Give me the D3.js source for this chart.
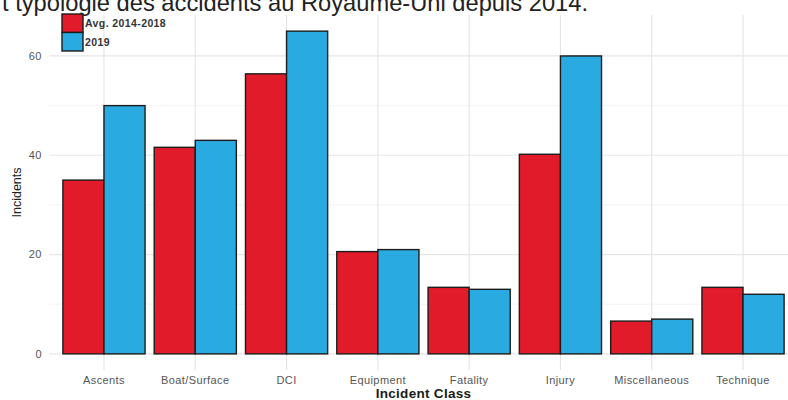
<!DOCTYPE html>
<html>
<head>
<meta charset="utf-8">
<script src="https://cdn.jsdelivr.net/npm/d3@7"></script>
<style>
  html, body { margin: 0; padding: 0; background: #fff; overflow: hidden; }
  svg { display: block; font-family: "Liberation Sans", Arial, Helvetica, sans-serif; }
</style>
</head>
<body>
<svg id="chart" width="788" height="400"></svg>
<script>
const categories = ["Ascents", "Boat/Surface", "DCI", "Equipment", "Fatality", "Injury", "Miscellaneous", "Technique"];
const seriesNames = ["Avg. 2014-2018", "2019"];
const avgValues = [35, 41.6, 56.4, 20.6, 13.4, 40.2, 6.6, 13.4];
const values2019 = [50, 43, 65, 21, 13, 60, 7, 12];
const yTicks = [0, 20, 40, 60];
const yMinorTicks = [10, 30, 50];
const colors = ["#e21b2a", "#29abe2"];
const titleText = "t typologie des accidents au Royaume-Uni depuis 2014.";

const svg = d3.select("#chart");
const W = 788, H = 400;
const panel = { left: 49.2, right: 797.8, top: 15, bottom: 370 };

const x = d3.scaleBand().domain(categories)
  .range([panel.left, panel.right]).paddingInner(0.1).paddingOuter(0.15);
const xs = d3.scaleBand().domain(seriesNames).range([0, x.bandwidth()]);
const y = d3.scaleLinear().domain([-3.25, 68.25]).range([panel.bottom, panel.top]);

// Grid
const g = svg.append("g");
g.selectAll("line.minor").data(yMinorTicks).join("line")
  .attr("x1", panel.left).attr("x2", W)
  .attr("y1", d => y(d)).attr("y2", d => y(d))
  .attr("stroke", "#f0f0f0").attr("stroke-width", 0.8);
g.selectAll("line.major").data(yTicks).join("line")
  .attr("x1", panel.left).attr("x2", W)
  .attr("y1", d => y(d)).attr("y2", d => y(d))
  .attr("stroke", "#e6e6e6").attr("stroke-width", 1.2);
g.selectAll("line.vmajor").data(categories).join("line")
  .attr("x1", d => x(d) + x.bandwidth() / 2).attr("x2", d => x(d) + x.bandwidth() / 2)
  .attr("y1", panel.top).attr("y2", panel.bottom)
  .attr("stroke", "#e6e6e6").attr("stroke-width", 1.2);

// Bars
const rows = categories.map((c, i) => ({ c, vals: [avgValues[i], values2019[i]] }));
const groups = svg.append("g").selectAll("g").data(rows).join("g")
  .attr("transform", d => `translate(${x(d.c)},0)`);
groups.selectAll("rect").data(d => d.vals.map((v, j) => ({ v, s: seriesNames[j], j }))).join("rect")
  .attr("x", d => xs(d.s))
  .attr("width", xs.bandwidth())
  .attr("y", d => y(d.v))
  .attr("height", d => y(0) - y(d.v))
  .attr("fill", d => colors[d.j])
  .attr("stroke", "#1c1c1c").attr("stroke-width", 1.4);

// Y axis labels
svg.append("g").selectAll("text").data(yTicks).join("text")
  .attr("x", 42).attr("y", d => y(d)).attr("dy", "0.35em")
  .attr("text-anchor", "end").attr("font-size", 11).attr("letter-spacing", 0.5).attr("fill", "#555")
  .text(d => d);

// X axis labels
svg.append("g").selectAll("text").data(categories).join("text")
  .attr("x", d => x(d) + x.bandwidth() / 2).attr("y", 384)
  .attr("text-anchor", "middle").attr("font-size", 11).attr("letter-spacing", 0.4).attr("fill", "#555")
  .text(d => d);

// Axis titles
svg.append("text")
  .attr("transform", `translate(21,${(panel.top + panel.bottom) / 2}) rotate(-90)`)
  .attr("text-anchor", "middle").attr("font-size", 12.5).attr("fill", "#222")
  .text("Incidents");
svg.append("text")
  .attr("x", (panel.left + panel.right) / 2).attr("y", 398)
  .attr("text-anchor", "middle").attr("font-size", 13.5).attr("font-weight", "bold")
  .attr("letter-spacing", 0.3).attr("fill", "#1a1a1a")
  .text("Incident Class");

// Legend
const leg = svg.append("g");
seriesNames.forEach((s, i) => {
  leg.append("rect").attr("x", 62).attr("y", 14 + i * 18.5).attr("width", 21).attr("height", 18.5)
    .attr("fill", colors[i]).attr("stroke", "#1c1c1c").attr("stroke-width", 1.4);
  leg.append("text").attr("x", 85).attr("y", 23.5 + i * 18.5).attr("dy", "0.35em")
    .attr("font-size", 10.5).attr("font-weight", "bold").attr("letter-spacing", 0.4)
    .attr("fill", "#333").text(s);
});

// Title (cropped at top, as in the reference)
svg.append("text")
  .attr("x", 588).attr("y", 10.5)
  .attr("text-anchor", "end").attr("font-size", 23.7).attr("fill", "#222")
  .text(titleText);
</script>
</body>
</html>
